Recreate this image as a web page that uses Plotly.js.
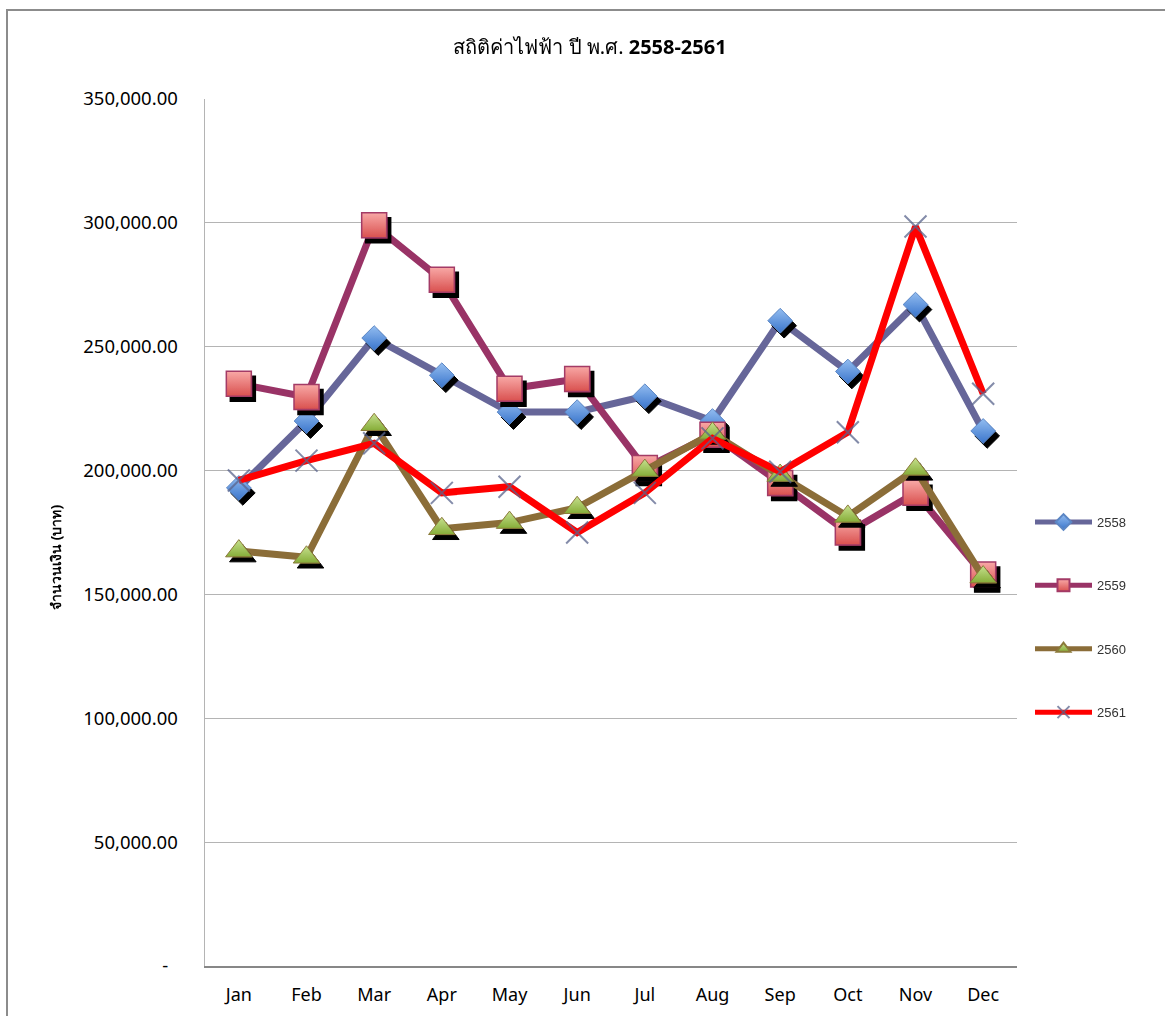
<!DOCTYPE html>
<html>
<head>
<meta charset="utf-8">
<script src="https://cdn.plot.ly/plotly-3.0.1.min.js"></script>
<style>
html,body{margin:0;padding:0;background:#fff;}
#chart{width:1165px;height:1016px;}
</style>
</head>
<body>
<svg width="0" height="0" style="position:absolute">
  <defs>
    <filter id="msh" x="-20%" y="-20%" width="140%" height="140%">
      <feOffset in="SourceAlpha" dx="4" dy="5" result="o"/>
      <feFlood flood-color="#000000" result="f"/>
      <feComposite in="f" in2="o" operator="in" result="s"/>
      <feMerge><feMergeNode in="s"/><feMergeNode in="SourceGraphic"/></feMerge>
    </filter>
  </defs>
</svg>
<div id="chart"></div>
<script>
// ---- data ----
const months = ['Jan','Feb','Mar','Apr','May','Jun','Jul','Aug','Sep','Oct','Nov','Dec'];
const y2558 = [193000, 220000, 253500, 238500, 223600, 223600, 230000, 220000, 260500, 240000, 267000, 216000];
const y2559 = [235000, 229700, 299000, 277000, 233000, 237000, 201000, 214500, 195000, 175000, 191000, 158000];
const y2560 = [167500, 165000, 218500, 176500, 179000, 185000, 200000, 215000, 198000, 181500, 200500, 157000];
const y2561 = [196000, 204000, 211000, 191000, 193500, 175000, 191000, 213000, 199500, 215500, 298500, 231000];
const seriesNames = ['2558', '2559', '2560', '2561'];
const yTickVals = [0, 50000, 100000, 150000, 200000, 250000, 300000, 350000];
const yTickText = ['-\u00a0\u00a0', '50,000.00', '100,000.00', '150,000.00', '200,000.00', '250,000.00', '300,000.00', '350,000.00'];
const chartTitle = 'สถิติค่าไฟฟ้า ปี พ.ศ. <b>2558-2561</b>';
const yTitle = 'จำนวนเงิน (บาท)';

const FONT = 'Noto Sans, Lato, sans-serif';

const traces = [
  {
    x: months, y: y2558, name: seriesNames[0], mode: 'lines+markers', legendgroup: 'a',
    line: {color: '#666699', width: 7},
    marker: {symbol: 'diamond', size: 19, color: '#93bdf0',
             gradient: {type: 'vertical', color: '#3a75cc'},
             line: {color: '#5b86c4', width: 1}}
  },
  {
    x: months, y: y2559, name: seriesNames[1], mode: 'lines+markers', legendgroup: 'b',
    line: {color: '#993366', width: 7},
    marker: {symbol: 'square', size: 25, color: '#f8a8a6',
             gradient: {type: 'vertical', color: '#d9504e'},
             line: {color: '#a33a66', width: 1.5}}
  },
  {
    x: months, y: y2560, name: seriesNames[2], mode: 'lines+markers', legendgroup: 'c',
    line: {color: '#8b6d38', width: 7},
    marker: {symbol: 'triangle-up', size: 23, color: '#c6e08e',
             gradient: {type: 'vertical', color: '#86ad38'},
             line: {color: '#8b7a3a', width: 1}}
  },
  {
    x: months, y: y2561, name: seriesNames[3], mode: 'lines+markers', legendgroup: 'd',
    line: {color: '#ff0000', width: 7},
    marker: {symbol: 'x-thin', size: 22, color: 'rgba(90,100,140,0.75)',
             line: {color: 'rgba(90,100,140,0.75)', width: 2}}
  }
];

const L = 205, R = 1017, T = 99, B = 966;
const pw = R - L, ph = B - T;

const layout = {
  width: 1165, height: 1016,
  margin: {l: L, r: 1165 - R, t: T, b: 1016 - B, pad: 0},
  paper_bgcolor: '#ffffff', plot_bgcolor: '#ffffff',
  font: {family: FONT, color: '#000000', size: 18},
  title: {text: chartTitle, x: 590 / 1165, xanchor: 'center', y: 1 - 47 / 1016, yanchor: 'middle',
          font: {family: FONT, size: 20, color: '#000000'}},
  showlegend: true,
  legend: {x: (1030 - L) / pw, xanchor: 'left', y: (B - 507) / ph, yanchor: 'top',
           font: {family: 'Liberation Sans, Arial, sans-serif', size: 13, color: '#333333'},
           tracegroupgap: 43.5, itemwidth: 57, itemsizing: 'constant', bgcolor: 'rgba(0,0,0,0)'},
  xaxis: {type: 'category', range: [-0.5, 11.5], showgrid: false, zeroline: false,
          showline: true, linecolor: '#878787', linewidth: 1.5,
          ticks: 'outside', ticklen: 12, tickcolor: 'rgba(0,0,0,0)',
          tickfont: {family: FONT, size: 18, color: '#000000'}, fixedrange: true},
  yaxis: {range: [0, 350000], tickvals: yTickVals, ticktext: yTickText,
          showgrid: true, gridcolor: '#b4b4b4', gridwidth: 1, zeroline: false,
          showline: true, linecolor: '#b4b4b4', linewidth: 1.5,
          ticks: 'outside', ticklen: 22, tickcolor: 'rgba(0,0,0,0)',
          tickfont: {family: FONT, size: 18.5, color: '#000000'}, fixedrange: true},
  annotations: [{
    text: '<b>' + yTitle + '</b>', xref: 'paper', yref: 'paper',
    x: (55 - L) / pw, y: (B - 558) / ph, xanchor: 'center', yanchor: 'middle',
    textangle: -90, showarrow: false, font: {family: FONT, size: 14, color: '#000000'}
  }],
  shapes: [{
    type: 'rect', xref: 'paper', yref: 'paper', layer: 'below',
    x0: (7 - L) / pw, x1: (1200 - L) / pw, y0: (B - 1060) / ph, y1: (B - 10) / ph,
    line: {color: '#8c8c8c', width: 2}, fillcolor: 'rgba(0,0,0,0)'
  }]
};

Plotly.newPlot('chart', traces, layout, {displayModeBar: false, staticPlot: true}).then(function () {
  const tr = document.querySelectorAll('.scatterlayer .trace');
  for (let i = 0; i < 3 && i < tr.length; i++) {
    const pts = tr[i].querySelector('g.points');
    if (pts) pts.setAttribute('filter', 'url(#msh)');
  }
});
</script>
</body>
</html>
